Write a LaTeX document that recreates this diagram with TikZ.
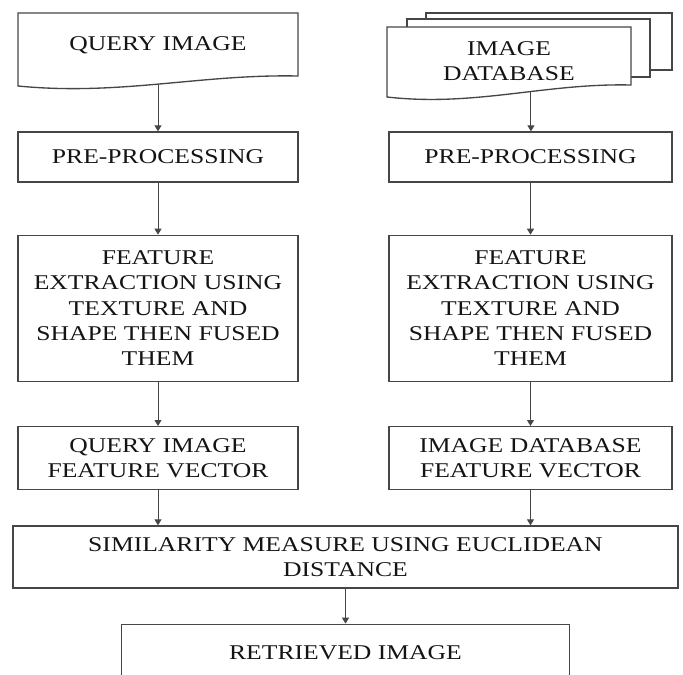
\documentclass[tikz,border=0pt]{standalone}
\usepackage{fontspec}
\setmainfont[FakeStretch=1.22]{Liberation Serif}
\usetikzlibrary{arrows.meta, positioning, calc}
\usepackage{xcolor}
\definecolor{bLine}{RGB}{70, 70, 70}
\definecolor{tDark}{RGB}{20, 20, 20}

\begin{document}
\begin{tikzpicture}[
    x=0.75pt, y=-0.75pt,
    font=\fontsize{15.75}{19}\selectfont,
    >={Triangle[length=4.5pt, width=5.25pt]},
    block/.style={
        draw=bLine,
        line width=1pt,
        fill=white,
        text=tDark,
        align=center,
        inner sep=2pt,
        minimum width=#1
    },
    doctext/.style={text=tDark, align=center, inner sep=0pt},
    docline/.style={draw=bLine, line width=1pt, fill=white},
    arrow/.style={->, line width=0.75pt, color=bLine}
]

\clip (0,0) rectangle (683,675);

% query document
\draw[docline] (18,13) -- (298,13) -- (298,76)
    .. controls (200,74) and (120,96) .. (18,86) coordinate[pos=0.5] (qwave) -- cycle;
\node[doctext] (qimg) at (158,45) {QUERY IMAGE};

% database stack
\draw[docline] (426,13) rectangle (672,70);
\draw[docline] (407,19) rectangle (650,77);
\draw[docline] (387,27) -- (631,27) -- (631,85)
    .. controls (545,83) and (475,107) .. (387,97) coordinate[pos=0.41] (dbwave) -- cycle;
\node[doctext] (dbimg) at (509,61) {IMAGE\\DATABASE};

% left column
\node[block=210pt, minimum height=37.5pt] (qpre) at (158,157) {PRE-PROCESSING};
\node[block=210pt, minimum height=109.5pt, below=39pt of qpre] (qfeat) {
    FEATURE\\EXTRACTION USING\\TEXTURE AND\\SHAPE THEN FUSED\\THEM
};
\node[block=210pt, minimum height=47.25pt, below=33pt of qfeat] (qvec) {
    QUERY IMAGE\\FEATURE VECTOR
};

% right column
\node[block=212.25pt, minimum height=37.5pt] (dbpre) at (530.5,157) {PRE-PROCESSING};
\node[block=212.25pt, minimum height=109.5pt, below=39pt of dbpre] (dbfeat) {
    FEATURE\\EXTRACTION USING\\TEXTURE AND\\SHAPE THEN FUSED\\THEM
};
\node[block=212.25pt, minimum height=47.25pt, below=33pt of dbfeat] (dbvec) {
    IMAGE DATABASE\\FEATURE VECTOR
};

% matching and output
\node[block=498.75pt, minimum height=46.5pt] (sim) at (345.5,557) {
    SIMILARITY MEASURE USING EUCLIDEAN\\DISTANCE
};
\node[block=336pt, minimum height=42.75pt, below=26.25pt of sim] (retr) {RETRIEVED IMAGE};

\draw[arrow] (qpre |- qwave) -- (qpre);
\draw[arrow] (dbwave) -- (dbwave |- dbpre.north);
\draw[arrow] (qpre) -- (qfeat);
\draw[arrow] (dbpre) -- (dbfeat);
\draw[arrow] (qfeat) -- (qvec);
\draw[arrow] (dbfeat) -- (dbvec);
\draw[arrow] (qvec) -- (qvec |- sim.north);
\draw[arrow] (dbvec) -- (dbvec |- sim.north);
\draw[arrow] (sim) -- (retr);

\end{tikzpicture}
\end{document}
